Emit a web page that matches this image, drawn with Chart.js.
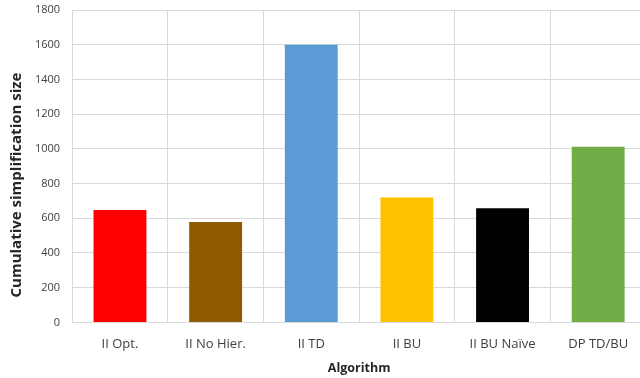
<!DOCTYPE html>
<html>
<head>
<meta charset="utf-8">
<script src="https://cdn.jsdelivr.net/npm/chart.js@4/dist/chart.umd.min.js"></script>
<style>
  html, body { margin: 0; padding: 0; background: #ffffff; overflow: hidden; }
  #wrap { width: 646px; height: 378px; }
</style>
</head>
<body>
<div id="wrap"><canvas id="chart" width="646" height="378"></canvas></div>
<script>
// Cumulative simplification size per algorithm
const categories = ["II Opt.", "II No Hier.", "II TD", "II BU", "II BU Naïve", "DP TD/BU"];
const sizes = [648, 579, 1600, 719, 658, 1012];
const barColors = ["#ff0000", "#8f5b00", "#5b9bd5", "#ffc000", "#000000", "#70ad47"];
const yTicks = [0, 200, 400, 600, 800, 1000, 1200, 1400, 1600, 1800];
const yTitle = "Cumulative simplification size";

const fontFamily = "'Open Sans', 'Noto Sans', 'Liberation Sans', sans-serif";

// Vertical axis title, placed a little below the plot's vertical centre
const yTitlePlugin = {
  id: "yTitle",
  afterDraw(chart) {
    const ctx = chart.ctx;
    ctx.save();
    ctx.translate(17, 185);
    ctx.rotate(-Math.PI / 2);
    ctx.font = "bold 15px " + fontFamily;
    ctx.fillStyle = "#262626";
    ctx.textAlign = "center";
    ctx.textBaseline = "middle";
    ctx.fillText(yTitle, 0, 0);
    ctx.restore();
  }
};

new Chart(document.getElementById("chart"), {
  type: "bar",
  data: {
    labels: categories,
    datasets: [{
      data: sizes,
      backgroundColor: barColors,
      borderWidth: 0,
      categoryPercentage: 1.0,
      barPercentage: 0.553
    }]
  },
  plugins: [yTitlePlugin],
  options: {
    responsive: false,
    animation: false,
    layout: { padding: { top: 10, right: 0, bottom: 2, left: 23 } },
    plugins: { legend: { display: false }, tooltip: { enabled: false } },
    scales: {
      x: {
        grid: { color: "#d9d9d9", lineWidth: 1, offset: true, drawTicks: false },
        border: { color: "#d9d9d9" },
        ticks: { color: "#404040", font: { family: fontFamily, size: 13 }, padding: 14 },
        title: { display: true, text: "Algorithm", color: "#262626",
                 font: { family: fontFamily, size: 12.5, weight: "bold" }, padding: { top: -5, bottom: 0 } }
      },
      y: {
        min: 0, max: 1800,
        afterBuildTicks: (axis) => { axis.ticks = yTicks.map(v => ({ value: v })); },
        afterFit: (scale) => { scale.paddingTop = 0; scale.paddingBottom = 0; },
        grid: { color: "#d9d9d9", lineWidth: 1, drawTicks: false },
        border: { color: "#d9d9d9" },
        ticks: { color: "#404040", font: { family: fontFamily, size: 11 }, padding: 12,
                 callback: (v) => String(v) },
        title: { display: false }
      }
    }
  }
});
</script>
</body>
</html>
